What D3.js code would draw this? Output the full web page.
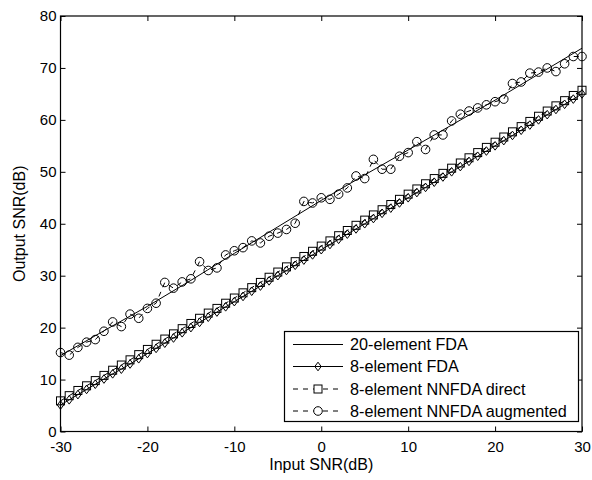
<!DOCTYPE html>
<html>
<head>
<meta charset="utf-8">
<script src="https://cdn.jsdelivr.net/npm/d3@7"></script>
<style>
  html, body { margin: 0; padding: 0; background: #fff; }
  svg { display: block; }
  text { font-family: "Liberation Sans", Arial, Helvetica, sans-serif; fill: #000; }
</style>
</head>
<body>
<svg id="chart" width="592" height="480"></svg>
<script>
// ---------------- data ----------------
const inputSNR = [-30,-29,-28,-27,-26,-25,-24,-23,-22,-21,-20,-19,-18,-17,-16,-15,-14,-13,-12,-11,
  -10,-9,-8,-7,-6,-5,-4,-3,-2,-1,0,1,2,3,4,5,6,7,8,9,10,11,12,13,14,15,16,17,18,19,20,
  21,22,23,24,25,26,27,28,29,30];

const fda20X = [-30,-25,-20,-15,-10,-5,0,5,10,15,20,25,30];
const fda20 = [14.6,19.4,24.1,29.1,34.3,39.4,44.5,49.4,54.2,59.0,63.8,68.8,73.8];

const fda8 = [5.1,6.1,7.1,8.1,9.1,10.1,11.1,12.0,13.0,14.0,15.0,16.0,17.0,18.0,19.0,20.0,21.0,22.0,23.0,24.0,
  25.0,26.0,27.0,28.0,29.0,30.0,31.0,32.0,33.0,34.0,35.0,36.0,37.0,38.0,39.0,40.0,41.0,42.0,43.0,44.0,
  45.0,46.0,47.0,48.0,49.0,50.0,51.0,52.0,53.0,54.0,55.0,56.0,57.0,58.0,59.0,60.0,61.0,62.0,63.0,64.0,65.0];

const nnDirect = [5.9,6.9,7.9,8.8,9.8,10.8,11.8,12.8,13.8,14.8,15.8,16.8,17.8,18.8,19.8,20.8,21.8,22.8,23.7,24.7,
  25.7,26.7,27.7,28.7,29.7,30.7,31.7,32.7,33.7,34.7,35.7,36.7,37.7,38.7,39.7,40.7,41.7,42.7,43.7,44.7,
  45.7,46.7,47.7,48.7,49.7,50.7,51.7,52.7,53.7,54.7,55.7,56.7,57.7,58.7,59.7,60.7,61.7,62.7,63.7,64.7,65.7];

const nnAugmented = [15.2,14.7,16.2,17.2,17.7,19.3,21.1,20.2,22.6,21.8,23.7,24.7,28.7,27.6,28.8,29.4,32.7,31.0,31.5,34.0,
  34.8,35.4,36.7,36.3,37.6,38.2,38.9,40.1,44.3,44.0,45.0,44.7,45.7,46.9,49.2,48.7,52.4,50.5,50.5,53.0,
  53.7,55.8,54.3,57.1,57.1,59.8,61.1,61.7,62.3,62.9,63.5,64.0,67.0,67.3,69.0,69.2,70.0,69.3,70.8,72.2,72.2];

const xTicks = [-30,-20,-10,0,10,20,30];
const yTicks = [0,10,20,30,40,50,60,70,80];
const legendLabels = ["20-element FDA","8-element FDA","8-element NNFDA direct","8-element NNFDA augmented"];
const xLabel = "Input SNR(dB)";
const yLabel = "Output SNR(dB)";

// ---------------- chart ----------------
const svg = d3.select("#chart");
const L = 60.5, R = 582, T = 16, B = 431.5;
const x = d3.scaleLinear().domain([-30, 30]).range([L, R]);
const y = d3.scaleLinear().domain([0, 80]).range([B, T]);

const fs = 15;

// axes
const gx = svg.append("g").attr("transform", `translate(0,${B})`)
  .call(d3.axisBottom(x).tickValues(xTicks).tickSize(-5).tickPadding(10).tickFormat(d3.format("d")));
const gxt = svg.append("g").attr("transform", `translate(0,${T})`)
  .call(d3.axisTop(x).tickValues(xTicks).tickSize(-5).tickFormat(""));
const gy = svg.append("g").attr("transform", `translate(${L},0)`)
  .call(d3.axisLeft(y).tickValues(yTicks).tickSize(-5).tickPadding(4).tickFormat(d3.format("d")));
const gyr = svg.append("g").attr("transform", `translate(${R},0)`)
  .call(d3.axisRight(y).tickValues(yTicks).tickSize(-5).tickFormat(""));

[gx, gxt, gy, gyr].forEach(g => {
  g.select(".domain").remove();
  g.selectAll(".tick line").attr("stroke", "#000").attr("stroke-width", 1);
  g.selectAll("text").attr("font-size", fs).attr("fill", "#000")
    .attr("font-family", '"Liberation Sans", Arial, sans-serif');
});
gx.selectAll(".tick text").text(d => d < 0 ? "-" + Math.abs(d) : d);

// box
svg.append("rect").attr("x", L).attr("y", T).attr("width", R - L).attr("height", B - T)
  .attr("fill", "none").attr("stroke", "#000").attr("stroke-width", 1.2);

// axis labels
svg.append("text").attr("x", (L + R) / 2).attr("y", 470).attr("text-anchor", "middle")
  .attr("font-size", 16).text(xLabel);
svg.append("text").attr("transform", `translate(25,${(T + B) / 2}) rotate(-90)`)
  .attr("text-anchor", "middle").attr("font-size", 16).text(yLabel);

// series
const line = d3.line().x(d => x(d[0])).y(d => y(d[1]));
const plot = svg.append("g");

const s20 = fda20X.map((v, i) => [v, fda20[i]]);
const s8 = inputSNR.map((v, i) => [v, fda8[i]]);
const sd = inputSNR.map((v, i) => [v, nnDirect[i]]);
const sa = inputSNR.map((v, i) => [v, nnAugmented[i]]);

const dash = "5,5";

plot.append("path").attr("d", line(s20)).attr("fill", "none").attr("stroke", "#000").attr("stroke-width", 1);

plot.append("path").attr("d", line(sd)).attr("fill", "none").attr("stroke", "#000").attr("stroke-width", 1).attr("stroke-dasharray", dash);
plot.append("path").attr("d", line(s8)).attr("fill", "none").attr("stroke", "#000").attr("stroke-width", 1);
plot.append("path").attr("d", line(sa)).attr("fill", "none").attr("stroke", "#000").attr("stroke-width", 1).attr("stroke-dasharray", dash);

const sq = 8, dW = 3.2, dH = 4.3, cr = 4.3;
function square(g, cx, cy) {
  g.append("rect").attr("x", cx - sq / 2).attr("y", cy - sq / 2).attr("width", sq).attr("height", sq)
    .attr("fill", "none").attr("stroke", "#000").attr("stroke-width", 1);
}
function diamond(g, cx, cy) {
  g.append("path").attr("d", `M${cx},${cy - dH}L${cx + dW},${cy}L${cx},${cy + dH}L${cx - dW},${cy}Z`)
    .attr("fill", "none").attr("stroke", "#000").attr("stroke-width", 1);
}
function circle(g, cx, cy) {
  g.append("circle").attr("cx", cx).attr("cy", cy).attr("r", cr)
    .attr("fill", "none").attr("stroke", "#000").attr("stroke-width", 1);
}

const gm = plot.append("g");
sd.forEach(d => square(gm, x(d[0]), y(d[1])));
s8.forEach(d => diamond(gm, x(d[0]), y(d[1])));
sa.forEach(d => circle(gm, x(d[0]), y(d[1])));

// legend
const lg = svg.append("g");
const lx = 284.5, ly = 331.5, lw = 294, lh = 90;
lg.append("rect").attr("x", lx).attr("y", ly).attr("width", lw).attr("height", lh)
  .attr("fill", "#fff").attr("stroke", "#000").attr("stroke-width", 1.2);
const rows = [344.5, 366.5, 389, 411];
const sx0 = 293, sx1 = 343, smid = 318;
legendLabels.forEach((lab, i) => {
  const ry = rows[i];
  const ln = lg.append("line").attr("x1", sx0).attr("x2", sx1).attr("y1", ry).attr("y2", ry)
    .attr("stroke", "#000").attr("stroke-width", 1);
  if (i >= 2) ln.attr("stroke-dasharray", dash);
  if (i === 1) diamond(lg, smid, ry);
  if (i === 2) { lg.append("rect").attr("x", smid - 4).attr("y", ry - 4).attr("width", 8).attr("height", 8).attr("fill", "#fff"); square(lg, smid, ry); }
  if (i === 3) { lg.append("circle").attr("cx", smid).attr("cy", ry).attr("r", cr).attr("fill", "#fff"); circle(lg, smid, ry); }
  lg.append("text").attr("x", 350).attr("y", ry).attr("dy", "0.36em").attr("font-size", 16.2).text(lab);
});
</script>
</body>
</html>
